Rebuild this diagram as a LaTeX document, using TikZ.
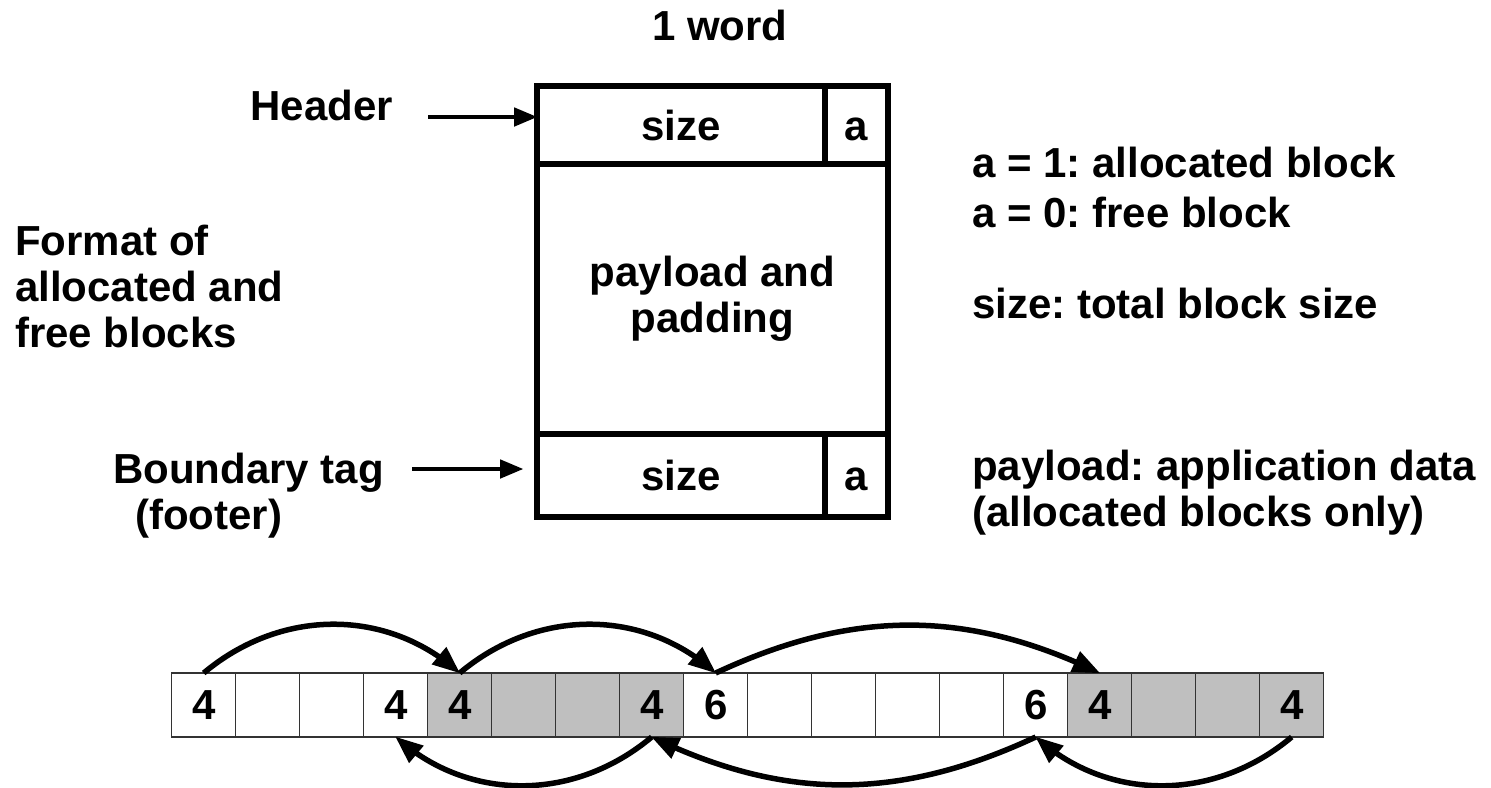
\documentclass[tikz,border=0pt]{standalone}
\usepackage{fontspec}
\setmainfont{Liberation Sans}
\usetikzlibrary{arrows,positioning}
\definecolor{freegray}{rgb}{.75,.75,.75}
\definecolor{celledge}{rgb}{.2,.2,.2}
\frenchspacing

\begin{document}
\begin{tikzpicture}[x=1pt,y=1pt,node distance=64pt,
  every node/.style={inner sep=0pt,font=\fontsize{42}{46}\selectfont\bfseries}]

  \tikzstyle{wordframe}=[draw,line width=5.5pt,outer sep=0pt]
  \tikzstyle{wordbox}=[wordframe,text height=30pt,text depth=0pt]
  \tikzstyle{memcell}=[draw=celledge,line width=1.2pt,outer sep=0pt,minimum size=64pt]
  \tikzstyle{freecell}=[memcell,fill=freegray]
  \tikzstyle{pointer}=[line width=4.5pt,-triangle 45]
  \tikzstyle{link}=[line width=5.5pt,-triangle 45]

  \useasboundingbox (0,0) rectangle (1491,-787);

  % block format
  \node (word) at (720,-25) {1 word};
  \node[wordbox,minimum width=288pt,minimum height=78pt] (hsize) at (681,-125) {size};
  \node[wordbox,minimum width=63pt,minimum height=78pt,right=0pt of hsize] (ha) {a};
  \node[wordframe,minimum width=351pt,minimum height=270pt,anchor=north west,align=center] (body) at (hsize.south west) {payload and\\padding};
  \node[wordbox,minimum width=288pt,minimum height=83pt,anchor=north west] (fsize) at (body.south west) {size};
  \node[wordbox,minimum width=63pt,minimum height=83pt,right=0pt of fsize] (fa) {a};

  \node[anchor=base east] (header) at (393,-120) {Header};
  \node[anchor=north west,align=left] (format) at (15,-225) {Format of\\allocated and\\free blocks};
  \node[anchor=north west,align=left] (tag) at (113,-453) {Boundary tag\\\hspace{22pt}(footer)};

  \coordinate (htail) at (428,-117);
  \coordinate (ftail) at (412,-469);
  \coordinate (fhead) at (523,-469);
  \draw[pointer] (htail) -- (htail -| hsize.west);
  \draw[pointer] (ftail) -- (fhead);

  \node[anchor=north west,align=left] (flag) at (972,-147) {a = 1: allocated block\\[4pt]a = 0: free block};
  \node[anchor=base west] (sizenote) at (972,-318) {size: total block size};
  \node[anchor=north west,align=left] (paynote) at (972,-450) {payload: application data\\(allocated blocks only)};

  % heap with boundary tags
  \node[memcell]  (c1)  at (203.7,-705) {4};
  \node[memcell]  (c2)  [right of=c1]  {};
  \node[memcell]  (c3)  [right of=c2]  {};
  \node[memcell]  (c4)  [right of=c3]  {4};
  \node[freecell] (c5)  [right of=c4]  {4};
  \node[freecell] (c6)  [right of=c5]  {};
  \node[freecell] (c7)  [right of=c6]  {};
  \node[freecell] (c8)  [right of=c7]  {4};
  \node[memcell]  (c9)  [right of=c8]  {6};
  \node[memcell]  (c10) [right of=c9]  {};
  \node[memcell]  (c11) [right of=c10] {};
  \node[memcell]  (c12) [right of=c11] {};
  \node[memcell]  (c13) [right of=c12] {};
  \node[memcell]  (c14) [right of=c13] {6};
  \node[freecell] (c15) [right of=c14] {4};
  \node[freecell] (c16) [right of=c15] {};
  \node[freecell] (c17) [right of=c16] {};
  \node[freecell] (c18) [right of=c17] {4};

  \path[link] (c1.north)  edge [bend left=40] (c5.north)
              (c5.north)  edge [bend left=40] (c9.north)
              (c9.north)  edge [bend left=25] (c15.north)
              (c8.south)  edge [bend left=40] (c4.south)
              (c14.south) edge [bend left=25] (c8.south)
              (c18.south) edge [bend left=40] (c14.south);

\end{tikzpicture}
\end{document}
